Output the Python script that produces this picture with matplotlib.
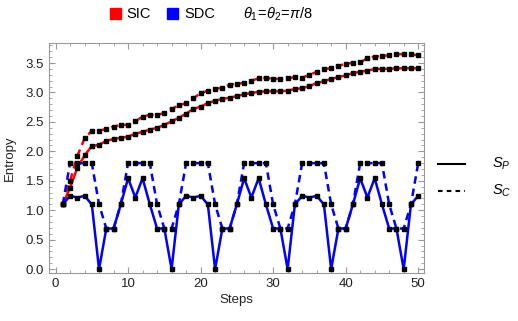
import matplotlib
matplotlib.use("Agg")
import matplotlib.pyplot as plt
from matplotlib.patches import Rectangle
from matplotlib.lines import Line2D
from matplotlib.ticker import MultipleLocator

plt.rcParams['font.family'] = ['Liberation Sans', 'DejaVu Sans']
plt.rcParams['mathtext.fontset'] = 'custom'
plt.rcParams['mathtext.rm'] = 'Liberation Sans'
plt.rcParams['mathtext.it'] = 'Liberation Sans:italic'

steps = list(range(1, 51))

sic_sp = [1.10, 1.38, 1.72, 1.93, 2.09, 2.11, 2.18, 2.21, 2.23, 2.25,
          2.30, 2.33, 2.37, 2.40, 2.45, 2.51, 2.57, 2.64, 2.72, 2.76,
          2.82, 2.86, 2.89, 2.91, 2.94, 2.97, 2.99, 3.01, 3.02, 3.02,
          3.02, 3.03, 3.06, 3.07, 3.11, 3.16, 3.19, 3.23, 3.26, 3.29,
          3.33, 3.35, 3.37, 3.40, 3.40, 3.40, 3.41, 3.41, 3.41, 3.41]

sic_sc = [1.10, 1.50, 1.92, 2.22, 2.35, 2.35, 2.38, 2.42, 2.45, 2.45,
          2.51, 2.59, 2.62, 2.62, 2.65, 2.72, 2.78, 2.82, 2.90, 2.99,
          3.03, 3.06, 3.08, 3.13, 3.15, 3.16, 3.20, 3.24, 3.25, 3.23,
          3.23, 3.24, 3.26, 3.25, 3.30, 3.35, 3.40, 3.41, 3.45, 3.49,
          3.50, 3.51, 3.58, 3.61, 3.62, 3.63, 3.65, 3.65, 3.65, 3.63]

sdc_sp = [1.10, 1.245, 1.216, 1.245, 1.10, 0.00, 0.69, 0.69, 1.10, 1.545,
          1.216, 1.545, 1.10, 0.69, 0.69, 0.00, 1.10, 1.245, 1.216, 1.245,
          1.10, 0.00, 0.69, 0.69, 1.10, 1.545, 1.216, 1.545, 1.10, 0.69,
          0.69, 0.00, 1.10, 1.245, 1.216, 1.245, 1.10, 0.00, 0.69, 0.69,
          1.10, 1.545, 1.216, 1.545, 1.10, 0.69, 0.69, 0.00, 1.10, 1.245]

sdc_sc = [1.10, 1.80, 1.80, 1.80, 1.80, 1.10, 0.69, 0.69, 1.10, 1.80,
          1.80, 1.80, 1.80, 1.10, 0.69, 0.69, 1.10, 1.80, 1.80, 1.80,
          1.80, 1.10, 0.69, 0.69, 1.10, 1.80, 1.80, 1.80, 1.80, 1.10,
          0.69, 0.69, 1.10, 1.80, 1.80, 1.80, 1.80, 1.10, 0.69, 0.69,
          1.10, 1.80, 1.80, 1.80, 1.80, 1.10, 0.69, 0.69, 1.10, 1.80]

x_ticks = [0, 10, 20, 30, 40, 50]
y_ticks = [0.0, 0.5, 1.0, 1.5, 2.0, 2.5, 3.0, 3.5]

W, H = 518, 321
fig = plt.figure(figsize=(W / 100, H / 100), dpi=100)
ax = fig.add_axes([49 / W, (H - 272.7) / H, (424 - 49) / W, (272.7 - 43) / H])

lw = 1.8
dash = (0, (3.0, 2.0))
ax.plot(steps, sic_sp, color='#ff0000', lw=lw, zorder=2)
ax.plot(steps, sic_sc, color='#ff0000', lw=lw, linestyle=dash, zorder=2)
ax.plot(steps, sdc_sp, color='#0000ff', lw=lw, zorder=2)
ax.plot(steps, sdc_sc, color='#0000ff', lw=lw, linestyle=dash, zorder=2)
for series in (sic_sp, sic_sc, sdc_sp, sdc_sc):
    ax.plot(steps, series, linestyle='none', marker='s', ms=3.4,
            color='black', zorder=3)

ax.set_xlim(-0.9, 50.8)
ax.set_ylim(-0.06, 3.84)
ax.set_xticks(x_ticks)
ax.set_yticks(y_ticks)
ax.set_yticklabels([f"{v:.1f}" for v in y_ticks])
ax.xaxis.set_minor_locator(MultipleLocator(2))
ax.yaxis.set_minor_locator(MultipleLocator(0.1))
ax.tick_params(which='both', direction='in', top=True, right=True,
               color='#999999', labelsize=9.5, labelcolor='#222222')
ax.tick_params(which='major', length=4, width=0.8)
ax.tick_params(which='minor', length=2, width=0.6)
for s in ax.spines.values():
    s.set_color('#999999')
    s.set_linewidth(0.8)
ax.set_xlabel('Steps', fontsize=9.5, color='#222222', labelpad=3)
ax.set_ylabel('Entropy', fontsize=9.5, color='#222222', labelpad=7)

# top legend
fig.add_artist(Rectangle((110 / W, 1 - 19 / H), 11 / W, 11 / H,
                         transform=fig.transFigure, color='#ff0000'))
fig.text(126 / W, 1 - 14 / H, 'SIC', fontsize=10.5, va='center', ha='left')
fig.add_artist(Rectangle((167 / W, 1 - 19 / H), 11 / W, 11 / H,
                         transform=fig.transFigure, color='#0000ff'))
fig.text(184 / W, 1 - 14 / H, 'SDC', fontsize=10.5, va='center', ha='left')
fig.text(243 / W, 1 - 14 / H, r'$\theta_1\!=\!\theta_2\!=\!\pi/8$',
         fontsize=10.5, va='center', ha='left')

# right legend
fig.add_artist(Line2D([438 / W, 465 / W], [1 - 164 / H, 1 - 164 / H],
                      transform=fig.transFigure, color='black', lw=1.5))
fig.text(492 / W, 1 - 164 / H, r'$S_P$', fontsize=10.5, va='center', ha='left')
fig.add_artist(Line2D([438 / W, 465 / W], [1 - 191 / H, 1 - 191 / H],
                      transform=fig.transFigure, color='black', lw=1.5,
                      linestyle=(0, (2.2, 2.0))))
fig.text(492 / W, 1 - 191 / H, r'$S_C$', fontsize=10.5, va='center', ha='left')

fig.savefig('out.png', dpi=100)
